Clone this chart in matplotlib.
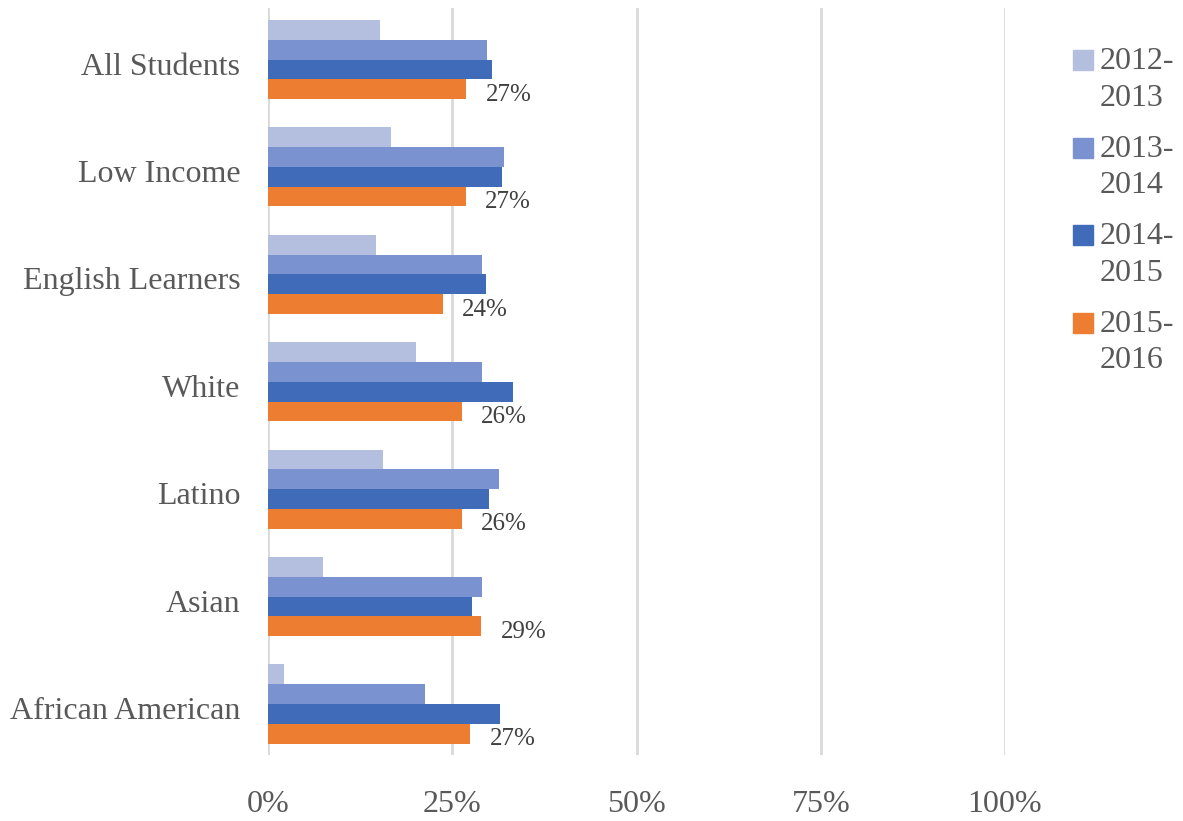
import numpy as np
import matplotlib.pyplot as plt
import matplotlib.transforms as mtransforms
from matplotlib.patches import Rectangle
from matplotlib.ticker import PercentFormatter

# datos (porcentajes)
categorias = ["All Students", "Low Income", "English Learners", "White",
              "Latino", "Asian", "African American"]
series = ["2012-\n2013", "2013-\n2014", "2014-\n2015", "2015-\n2016"]
v_2012 = [15.2, 16.7, 14.7, 20.1, 15.6, 7.5, 2.2]
v_2013 = [29.7, 32.0, 29.0, 29.0, 31.3, 29.0, 21.3]
v_2014 = [30.4, 31.7, 29.6, 33.2, 30.0, 27.7, 31.5]
v_2015 = [26.9, 26.8, 23.7, 26.3, 26.3, 28.9, 27.4]

colores = ["#B4BFE0", "#7A93D0", "#3F6BB8", "#ED7D31"]
gris = "#595959"

plt.rcParams["font.family"] = ["Liberation Serif", "DejaVu Serif"]

W, H = 1183, 821
fig = plt.figure(figsize=(W / 100, H / 100), dpi=100)
ax = fig.add_axes([268 / W, 1 - 755 / H, 737 / W, 747 / H])

y = np.arange(len(categorias))
h = 0.184
valores = [v_2012, v_2013, v_2014, v_2015]
for i, (vals, col, nombre) in enumerate(zip(valores, colores, series)):
    pos = y + (i - 1.5) * h
    ax.barh(pos, vals, height=h, color=col, label=nombre, zorder=3)

# etiquetas solo para 2015-2016
for yy, v in zip(y + 1.5 * h, v_2015):
    ax.annotate(f"{v:.0f}%", (v, yy), xytext=(14, -4), textcoords="offset points",
                ha="left", va="center", fontsize=18, color="#404040")

ax.set_xlim(0, 100)
ax.set_ylim(6.475, -0.48)
ax.set_xticks([0, 25, 50, 75, 100])
ax.xaxis.set_major_formatter(PercentFormatter(decimals=0))
ax.set_yticks(y)
ax.set_yticklabels(categorias)
ax.tick_params(axis="both", length=0, labelsize=23, colors=gris)
ax.tick_params(axis="y", pad=20)
ax.tick_params(axis="x", pad=25)
ax.grid(axis="x", color="#D9D9D9", linewidth=2, zorder=0)
for s in ax.spines.values():
    s.set_visible(False)

# bajar un poco las etiquetas de categoria
desplazamiento = mtransforms.ScaledTranslation(0, -4 / 100, fig.dpi_scale_trans)
for lbl in ax.get_yticklabels():
    lbl.set_transform(lbl.get_transform() + desplazamiento)

# leyenda a la derecha (cuadro alineado con la primera linea)
for i, (nombre, col) in enumerate(zip(series, colores)):
    yc = 60 + i * 87.6
    fig.patches.append(Rectangle((1073 / W, 1 - (yc + 10) / H), 20 / W, 20 / H,
                                 transform=fig.transFigure, color=col))
    fig.text(1100 / W, 1 - (yc - 13) / H, nombre, ha="left", va="top",
             fontsize=23, color=gris, linespacing=1.35)

fig.savefig("out.png", dpi=100)
